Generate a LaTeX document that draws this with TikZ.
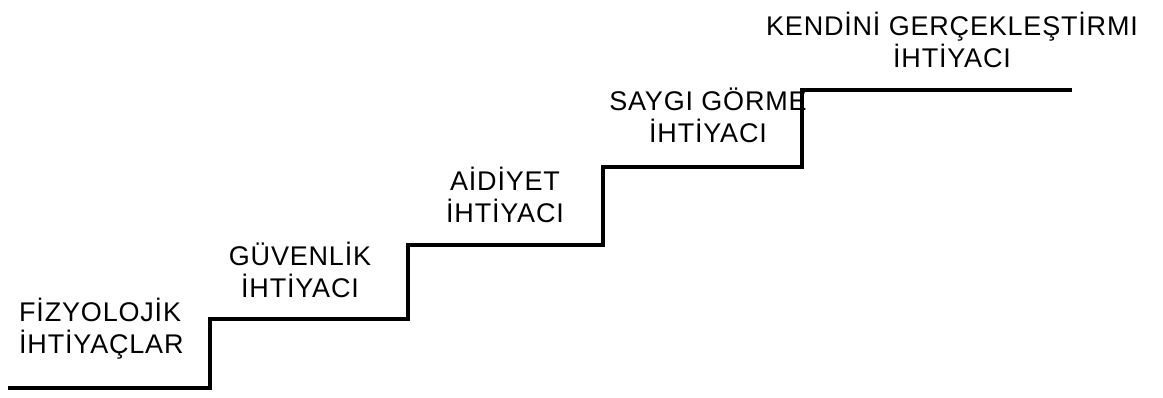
\documentclass[tikz,border=0pt]{standalone}
\usepackage{fontspec}
\setmainfont[LetterSpace=3]{Liberation Sans}
\usetikzlibrary{positioning}

\begin{document}
\begin{tikzpicture}[x=1pt,y=-1pt,
    stair/.style={line width=4pt, line join=miter},
    need/.style={font=\fontsize{27}{32}\selectfont, align=center, inner sep=0pt}]
    \useasboundingbox (0,0) rectangle (1163,398);
    % set up the corners of the stairs
    \coordinate (s0) at (8,388);
    \coordinate (s1) at (210,388);
    \coordinate (s2) at (210,319);
    \coordinate (s3) at (408,319);
    \coordinate (s4) at (408,245);
    \coordinate (s5) at (603,245);
    \coordinate (s6) at (603,167);
    \coordinate (s7) at (802,167);
    \coordinate (s8) at (802,90);
    \coordinate (s9) at (1072,90);
    % set up the labels
    \node[need, align=left, anchor=west] (N1) at (19,329) {FİZYOLOJİK\\İHTİYAÇLAR};
    \node[need] (N2) at (300,270) {GÜVENLİK\\İHTİYACI};
    \node[need] (N3) at (505,195) {AİDİYET\\İHTİYACI};
    \node[need] (N4) at (708,115) {SAYGI GÖRME\\İHTİYACI};
    \node[need] (N5) at (952,40) {KENDİNİ GERÇEKLEŞTİRMI\\İHTİYACI};
    % draw the stairs
    \draw[stair] (s0) -- (s1) -- (s2) -- (s3) -- (s4) -- (s5) -- (s6) -- (s7) -- (s8) -- (s9);
\end{tikzpicture}
\end{document}
